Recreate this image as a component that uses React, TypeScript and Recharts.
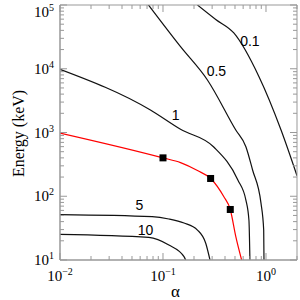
import React from "react";
import { ComposedChart, Line, Scatter, XAxis, YAxis, ReferenceDot, Label } from "recharts";

// contour curves, alpha vs energy (keV)
const curve01 = [
  { x: 0.216, y: 100000 },
  { x: 0.325, y: 59300 },
  { x: 0.487, y: 36400 },
  { x: 0.855, y: 7500 },
  { x: 1.4, y: 1094 },
  { x: 2.0, y: 210 },
];
const curve05 = [
  { x: 0.0723, y: 100000 },
  { x: 0.148, y: 22200 },
  { x: 0.27, y: 6670 },
  { x: 0.509, y: 1094 },
  { x: 0.638, y: 599 },
  { x: 0.741, y: 258 },
  { x: 0.894, y: 78 },
  { x: 0.95, y: 29.5 },
  { x: 0.956, y: 10 },
];
const curve1 = [
  { x: 0.01, y: 9800 },
  { x: 0.0755, y: 2253 },
  { x: 0.148, y: 1122 },
  { x: 0.311, y: 593 },
  { x: 0.533, y: 180 },
  { x: 0.638, y: 87 },
  { x: 0.683, y: 42 },
  { x: 0.698, y: 10 },
];
const curve5 = [
  { x: 0.01, y: 51.4 },
  { x: 0.0785, y: 47.8 },
  { x: 0.114, y: 44 },
  { x: 0.16, y: 38 },
  { x: 0.216, y: 29.5 },
  { x: 0.26, y: 18.3 },
  { x: 0.286, y: 10 },
];
const curve10 = [
  { x: 0.01, y: 25.3 },
  { x: 0.0728, y: 22.7 },
  { x: 0.114, y: 17.2 },
  { x: 0.16, y: 11.3 },
  { x: 0.166, y: 10 },
];
const redCurve = [
  { x: 0.01, y: 980 },
  { x: 0.1, y: 400 },
  { x: 0.148, y: 337 },
  { x: 0.216, y: 253 },
  { x: 0.29, y: 190 },
  { x: 0.39, y: 98 },
  { x: 0.45, y: 62 },
  { x: 0.51, y: 23 },
  { x: 0.58, y: 10 },
];
const squares = [
  { x: 0.1, y: 400 },
  { x: 0.29, y: 190 },
  { x: 0.45, y: 62 },
];
const curveLabels = [
  { x: 0.698, y: 27700, text: "0.1" },
  { x: 0.33, y: 9230, text: "0.5" },
  { x: 0.1324, y: 1885, text: "1" },
  { x: 0.059, y: 73, text: "5" },
  { x: 0.0675, y: 29.5, text: "10" },
];

const xTicks = [0.01, 0.02, 0.03, 0.04, 0.05, 0.06, 0.07, 0.08, 0.09, 0.1, 0.2, 0.3, 0.4, 0.5, 0.6, 0.7, 0.8, 0.9, 1, 2];
const xExp: Record<string, string> = { "0.01": "\u22122", "0.1": "\u22121", "1": "0" };
const yTicks = [
  10, 20, 30, 40, 50, 60, 70, 80, 90,
  100, 200, 300, 400, 500, 600, 700, 800, 900,
  1000, 2000, 3000, 4000, 5000, 6000, 7000, 8000, 9000,
  10000, 20000, 30000, 40000, 50000, 60000, 70000, 80000, 90000,
  100000,
];
const yExp: Record<string, string> = { "10": "1", "100": "2", "1000": "3", "10000": "4", "100000": "5" };

const AXIS = "#999";
const SERIF = "'Liberation Serif', serif";
const SANS = "'Liberation Sans', sans-serif";

function BottomTick(props: any) {
  const { x, y, payload } = props;
  const exp = xExp[String(payload.value)];
  return (
    <g>
      <line x1={x} y1={y} x2={x} y2={y - (exp ? 7 : 4)} stroke={AXIS} />
      {exp && (
        <text x={x} y={y + 21} textAnchor="middle" fontFamily={SERIF} fontSize={15} fill="#000">
          10<tspan dy={-6} fontSize={10}>{exp}</tspan>
        </text>
      )}
    </g>
  );
}

function LeftTick(props: any) {
  const { x, y, payload } = props;
  const exp = yExp[String(payload.value)];
  const base = Math.max(y + 5, 17);
  return (
    <g>
      <line x1={x} y1={y} x2={x + (exp ? 7 : 4)} y2={y} stroke={AXIS} />
      {exp && (
        <text x={x - 6} y={base} textAnchor="end" fontFamily={SERIF} fontSize={15} fill="#000">
          10<tspan dy={-6} fontSize={10}>{exp}</tspan>
        </text>
      )}
    </g>
  );
}

function TopTick(props: any) {
  const { x, y, payload } = props;
  const major = xExp[String(payload.value)] !== undefined;
  return <line x1={x} y1={y} x2={x} y2={y + (major ? 7 : 4)} stroke={AXIS} />;
}

function RightTick(props: any) {
  const { x, y, payload } = props;
  const major = yExp[String(payload.value)] !== undefined;
  return <line x1={x} y1={y} x2={x - (major ? 7 : 4)} y2={y} stroke={AXIS} />;
}

function YTitle(props: any) {
  const vb = props.viewBox;
  const cx = vb.x + 18;
  const cy = vb.y + vb.height / 2 + 1;
  return (
    <text x={cx} y={cy} transform={`rotate(-90 ${cx} ${cy})`} textAnchor="middle" dominantBaseline="central"
      fontFamily={SERIF} fontSize={16} fill="#000">
      Energy (keV)
    </text>
  );
}

function XTitle(props: any) {
  const vb = props.viewBox;
  return (
    <text x={vb.x + vb.width / 2 - 3} y={vb.y + 37} textAnchor="middle" fontFamily={SERIF} fontSize={17} fill="#000">
      α
    </text>
  );
}

const lines = [curve01, curve05, curve1, curve5, curve10];

export default function App() {
  return (
    <div style={{ position: "absolute", left: 0, top: 0, background: "#fff" }}>
      <ComposedChart width={300} height={300} margin={{ top: 0, right: 0, bottom: 0, left: 0 }}>
        <XAxis dataKey="x" type="number" scale="log" domain={[0.01, 2]} allowDataOverflow ticks={xTicks}
          interval={0} height={40} tickSize={0} tickMargin={0} tickLine={false}
          axisLine={{ stroke: AXIS, strokeWidth: 1.5 }} tick={<BottomTick />}>
          <Label content={<XTitle />} />
        </XAxis>
        <XAxis xAxisId="top" orientation="top" dataKey="x" type="number" scale="log" domain={[0.01, 2]}
          allowDataOverflow ticks={xTicks} interval={0} height={5} tickSize={0} tickMargin={0} tickLine={false}
          axisLine={{ stroke: AXIS }} tick={<TopTick />} />
        <YAxis type="number" scale="log" domain={[10, 100000]} allowDataOverflow ticks={yTicks} interval={0}
          width={60} tickSize={0} tickMargin={0} tickLine={false}
          axisLine={{ stroke: AXIS, strokeWidth: 1.5 }} tick={<LeftTick />}>
          <Label content={<YTitle />} />
        </YAxis>
        <YAxis yAxisId="right" orientation="right" type="number" scale="log" domain={[10, 100000]}
          allowDataOverflow ticks={yTicks} interval={0} width={3} tickSize={0} tickMargin={0} tickLine={false}
          axisLine={{ stroke: AXIS }} tick={<RightTick />} />
        {lines.map((d, i) => (
          <Line key={i} data={d} dataKey="y" type="monotone" stroke="#111" strokeWidth={1.2} dot={false}
            isAnimationActive={false} />
        ))}
        <Line data={redCurve} dataKey="y" type="monotone" stroke="#f00" strokeWidth={1.2} dot={false}
          isAnimationActive={false} />
        <Scatter data={squares} dataKey="y" isAnimationActive={false}
          shape={(p: any) => <rect x={p.cx - 3.5} y={p.cy - 3.5} width={7} height={7} fill="#000" />} />
        {curveLabels.map((l) => (
          <ReferenceDot key={l.text} x={l.x} y={l.y} r={0} fill="none" stroke="none"
            label={{ value: l.text, position: "center", fontFamily: SANS, fontSize: 14, fill: "#000" }} />
        ))}
      </ComposedChart>
    </div>
  );
}
